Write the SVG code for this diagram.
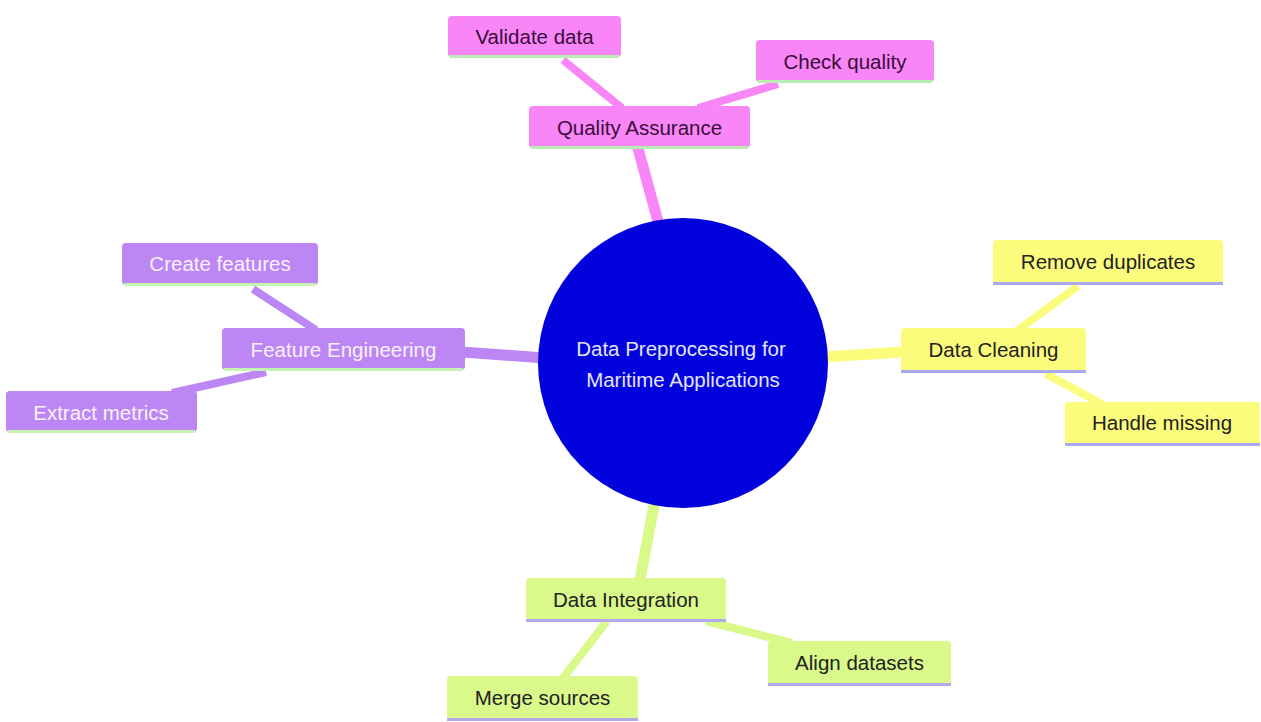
<svg xmlns="http://www.w3.org/2000/svg" width="1261" height="722" viewBox="0 0 1261 722">
<style>
  text { font-family: "Liberation Sans", Arial, sans-serif; font-size: 20.5px; text-anchor: middle; dominant-baseline: central; }
  .pink rect { fill: #f986f7; }
  .pink text { fill: #3a0c3a; }
  .pink line { stroke: #b9eeb2; }
  .yellow rect { fill: #fcfc7c; }
  .yellow text { fill: #222222; }
  .yellow line { stroke: #aaa8ee; }
  .purple rect { fill: #bd86f5; }
  .purple text { fill: #f8f2ff; }
  .purple line { stroke: #c6f2b4; }
  .green rect { fill: #d9f98a; }
  .green text { fill: #222222; }
  .green line { stroke: #b2a8ea; }
  .node line { stroke-width: 3; }
  #connectors line { stroke-linecap: butt; }
  .c-pink { stroke: #f986f7; }
  .c-yellow { stroke: #fcfc7c; }
  .c-purple { stroke: #bd86f5; }
  .c-green { stroke: #d9f98a; }
  .main { stroke-width: 11; }
  .sub { stroke-width: 8; }
</style>
<rect width="1261" height="722" fill="#ffffff"/>
<g id="connectors">
  <line class="c-pink main" x1="659" y1="225" x2="637" y2="145"/>
  <line class="c-pink sub" x1="563" y1="60" x2="622" y2="108"/>
  <line class="c-pink sub" x1="778" y1="84" x2="698" y2="108"/>
  <line class="c-yellow main" x1="822" y1="357" x2="904" y2="352"/>
  <line class="c-yellow sub" x1="1078" y1="286" x2="1018" y2="330"/>
  <line class="c-yellow sub" x1="1046" y1="374" x2="1102" y2="404"/>
  <line class="c-purple main" x1="462" y1="352" x2="545" y2="358"/>
  <line class="c-purple sub" x1="253" y1="289" x2="316" y2="330"/>
  <line class="c-purple sub" x1="266" y1="372" x2="172" y2="393"/>
  <line class="c-green main" x1="655" y1="500" x2="640" y2="580"/>
  <line class="c-green sub" x1="706" y1="621" x2="792" y2="643"/>
  <line class="c-green sub" x1="607" y1="621" x2="563" y2="678"/>
</g>
<g id="root">
  <circle cx="683" cy="363" r="145" fill="#0202dd"/>
  <text x="681" y="348" fill="#e4e4ff">Data Preprocessing for</text>
  <text x="683" y="379" fill="#e4e4ff">Maritime Applications</text>
</g>
<g id="quality-assurance" class="node pink">
  <rect x="529" y="106" width="221" height="42" rx="4"/>
  <line x1="531" y1="147.5" x2="748" y2="147.5"/>
  <text x="639.5" y="127">Quality Assurance</text>
</g>
<g id="validate-data" class="node pink">
  <rect x="448" y="16" width="173" height="41" rx="4"/>
  <line x1="450" y1="56.5" x2="619" y2="56.5"/>
  <text x="534.5" y="36">Validate data</text>
</g>
<g id="check-quality" class="node pink">
  <rect x="756" y="40" width="178" height="42" rx="4"/>
  <line x1="758" y1="81.5" x2="932" y2="81.5"/>
  <text x="845" y="61">Check quality</text>
</g>
<g id="data-cleaning" class="node yellow">
  <rect x="901" y="328" width="185" height="44" rx="4"/>
  <line x1="901" y1="371.5" x2="1086" y2="371.5"/>
  <text x="993.5" y="349">Data Cleaning</text>
</g>
<g id="remove-duplicates" class="node yellow">
  <rect x="993" y="240" width="230" height="44" rx="4"/>
  <line x1="993" y1="283.5" x2="1223" y2="283.5"/>
  <text x="1108" y="261">Remove duplicates</text>
</g>
<g id="handle-missing" class="node yellow">
  <rect x="1065" y="402" width="195" height="43" rx="4"/>
  <line x1="1065" y1="444.5" x2="1260" y2="444.5"/>
  <text x="1162" y="422">Handle missing</text>
</g>
<g id="feature-engineering" class="node purple">
  <rect x="222" y="328" width="243" height="42" rx="4"/>
  <line x1="224" y1="369.5" x2="463" y2="369.5"/>
  <text x="343.5" y="349">Feature Engineering</text>
</g>
<g id="create-features" class="node purple">
  <rect x="122" y="243" width="196" height="42" rx="4"/>
  <line x1="124" y1="284.5" x2="316" y2="284.5"/>
  <text x="220" y="263">Create features</text>
</g>
<g id="extract-metrics" class="node purple">
  <rect x="6" y="391" width="191" height="41" rx="4"/>
  <line x1="8" y1="431.5" x2="195" y2="431.5"/>
  <text x="101" y="412">Extract metrics</text>
</g>
<g id="data-integration" class="node green">
  <rect x="526" y="578" width="200" height="43" rx="4"/>
  <line x1="526" y1="620.5" x2="726" y2="620.5"/>
  <text x="626" y="599">Data Integration</text>
</g>
<g id="align-datasets" class="node green">
  <rect x="768" y="641" width="183" height="44" rx="4"/>
  <line x1="768" y1="684.5" x2="951" y2="684.5"/>
  <text x="859.5" y="662">Align datasets</text>
</g>
<g id="merge-sources" class="node green">
  <rect x="447" y="676" width="191" height="44" rx="4"/>
  <line x1="447" y1="719.5" x2="638" y2="719.5"/>
  <text x="542.5" y="697">Merge sources</text>
</g>
</svg>
